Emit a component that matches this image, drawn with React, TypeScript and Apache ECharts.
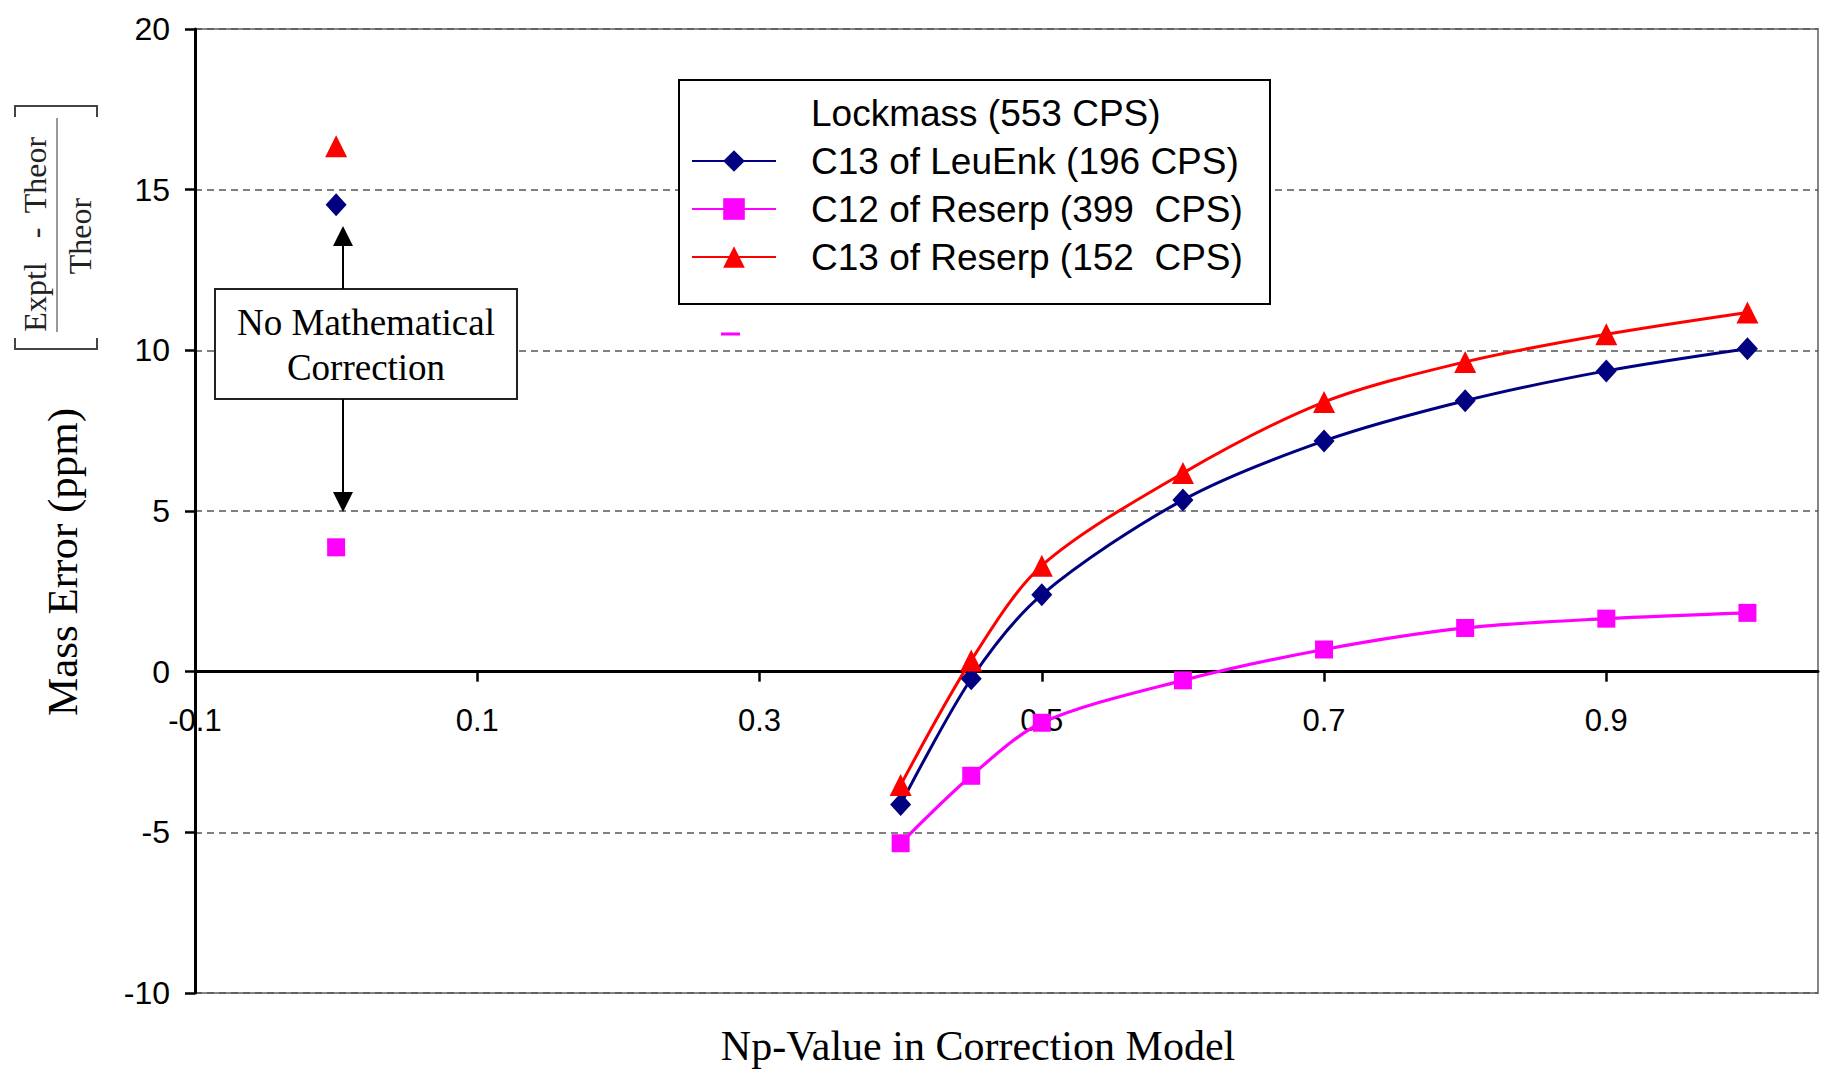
import React, { useEffect, useRef } from "react";
import * as echarts from "echarts";

// ---- data ----
const npValues = [0, 0.4, 0.45, 0.5, 0.6, 0.7, 0.8, 0.9, 1.0];
const c13LeuEnk = [14.53, -4.13, -0.22, 2.39, 5.34, 7.18, 8.43, 9.36, 10.05];
const c12Reserp = [3.87, -5.34, -3.24, -1.59, -0.27, 0.69, 1.36, 1.65, 1.83];
const c13Reserp = [16.35, -3.53, 0.35, 3.3, 6.18, 8.39, 9.64, 10.5, 11.18];

const seriesNames = [
  "Lockmass (553 CPS)",
  "C13 of LeuEnk (196 CPS)",
  "C12 of Reserp (399  CPS)",
  "C13 of Reserp (152  CPS)",
];
const seriesColors = ["rgba(0,0,0,0)", "#000080", "#FF00FF", "#FF0000"];

const xTickValues = [-0.1, 0.1, 0.3, 0.5, 0.7, 0.9];
const xMin = -0.1;
const xMax = 1.05;
const yMin = -10;
const yMax = 20;
const yStep = 5;

const xTitle = "Np-Value in Correction Model";
const yTitle = "Mass Error (ppm)";
const noteLines = ["No Mathematical", "Correction"];

const SANS = '"Liberation Sans", Arial, sans-serif';
const SERIF = '"Liberation Serif", "Times New Roman", serif';

const CHART_W = 1826;
const CHART_H = 1075;
const GRID = { left: 195, right: 8, top: 29, bottom: 82 };

function toPairs(values: number[]) {
  const pts = npValues.map((x, i) => [x, values[i]]);
  // the Np = 0 point (no correction) is not joined to the curve
  return [pts[0], ["-", "-"], ...pts.slice(1)];
}

export default function App() {
  const ref = useRef<HTMLDivElement>(null);

  useEffect(() => {
    if (!ref.current) return;
    const chart = echarts.init(ref.current, null, { renderer: "svg" });

    // the x axis crosses the y axis at y = 0: shift the bottom axis up to that level
    const gridHeight = CHART_H - GRID.top - GRID.bottom;
    const zeroOffset = -gridHeight * ((0 - yMin) / (yMax - yMin));

    const curve = (idx: number, values: number[], symbol: string, size: any, width: number) => ({
      name: seriesNames[idx],
      type: "line",
      data: toPairs(values),
      smooth: 0.3,
      connectNulls: false,
      symbol,
      symbolSize: size,
      color: seriesColors[idx],
      lineStyle: { color: seriesColors[idx], width },
      itemStyle: { color: seriesColors[idx] },
      z: 2,
    });

    const centered = {
      textAlign: "center",
      align: "center",
      textVerticalAlign: "middle",
      verticalAlign: "middle",
    };

    const option: any = {
      animation: false,
      backgroundColor: "#ffffff",
      grid: {
        ...GRID,
        show: true,
        borderColor: "#858585",
        borderWidth: 2,
        backgroundColor: "transparent",
        outerBoundsMode: "none",
      },
      xAxis: {
        type: "value",
        min: xMin,
        max: xMax,
        position: "bottom",
        offset: zeroOffset,
        axisLine: { show: true, onZero: false, lineStyle: { color: "#000", width: 3 } },
        axisTick: {
          show: true,
          inside: false,
          length: 10,
          customValues: xTickValues,
          lineStyle: { color: "#000", width: 2.5 },
        },
        axisLabel: {
          customValues: xTickValues,
          margin: 33,
          fontFamily: SANS,
          fontSize: 31,
          color: "#000",
        },
        splitLine: { show: false },
      },
      yAxis: {
        type: "value",
        min: yMin,
        max: yMax,
        interval: yStep,
        axisLine: { show: true, onZero: false, lineStyle: { color: "#000", width: 3 } },
        axisTick: { show: true, inside: false, length: 10, lineStyle: { color: "#000", width: 2.5 } },
        axisLabel: { margin: 25, fontFamily: SANS, fontSize: 32, color: "#000" },
        splitLine: {
          show: true,
          lineStyle: { color: "#555", width: 1.5, type: [7, 5] },
        },
      },
      legend: {
        orient: "vertical",
        left: 691,
        top: 92,
        padding: 0,
        itemWidth: 84,
        itemHeight: 27,
        itemGap: 6,
        selectedMode: false,
        data: seriesNames,
        textStyle: {
          fontFamily: SANS,
          fontSize: 37,
          color: "#000",
          lineHeight: 42,
          padding: [0, 0, 0, 30],
        },
        z: 5,
      },
      series: [
        {
          name: seriesNames[0],
          type: "line",
          data: [],
          symbol: "none",
          color: seriesColors[0],
          lineStyle: { color: seriesColors[0], width: 0 },
          itemStyle: { color: seriesColors[0] },
        },
        curve(1, c13LeuEnk, "diamond", [21, 23], 3),
        curve(2, c12Reserp, "rect", 18, 3.2),
        curve(3, c13Reserp, "triangle", 22, 3),
      ],
      graphic: [
        // legend frame
        {
          type: "rect",
          z: 3,
          shape: { x: 679, y: 80, width: 591, height: 224 },
          style: { fill: "#fff", stroke: "#000", lineWidth: 2 },
        },
        // stray magenta mark under the legend
        {
          type: "line",
          z: 3,
          shape: { x1: 721, y1: 334, x2: 740, y2: 334 },
          style: { stroke: "#FF00FF", lineWidth: 3 },
        },
        // annotation box
        {
          type: "rect",
          z: 3,
          shape: { x: 215, y: 289, width: 302, height: 110 },
          style: { fill: "#fff", stroke: "#222", lineWidth: 2 },
        },
        {
          type: "text",
          z: 4,
          x: 366,
          y: 345,
          style: {
            text: noteLines.join("\n"),
            fontFamily: SERIF,
            fontSize: 37,
            lineHeight: 45,
            fill: "#000",
            ...centered,
          },
        },
        // arrows
        {
          type: "line",
          z: 3,
          shape: { x1: 343, y1: 289, x2: 343, y2: 244 },
          style: { stroke: "#000", lineWidth: 2 },
        },
        {
          type: "polygon",
          z: 3,
          shape: { points: [[343, 226], [333, 246], [353, 246]] },
          style: { fill: "#000" },
        },
        {
          type: "line",
          z: 3,
          shape: { x1: 343, y1: 399, x2: 343, y2: 494 },
          style: { stroke: "#000", lineWidth: 2 },
        },
        {
          type: "polygon",
          z: 3,
          shape: { points: [[343, 512], [333, 492], [353, 492]] },
          style: { fill: "#000" },
        },
        // axis titles
        {
          type: "text",
          z: 4,
          x: 62,
          y: 562,
          rotation: Math.PI / 2,
          style: { text: yTitle, fontFamily: SERIF, fontSize: 43, fill: "#000", ...centered },
        },
        {
          type: "text",
          z: 4,
          x: 978,
          y: 1046,
          style: { text: xTitle, fontFamily: SERIF, fontSize: 42, fill: "#000", ...centered },
        },
        // [ (Exptl - Theor) / Theor ] formula
        {
          type: "polyline",
          z: 3,
          shape: { points: [[15, 117], [15, 106], [97, 106], [97, 117]] },
          style: { stroke: "#444", lineWidth: 2, fill: "none" },
        },
        {
          type: "polyline",
          z: 3,
          shape: { points: [[15, 338], [15, 349], [97, 349], [97, 338]] },
          style: { stroke: "#444", lineWidth: 2, fill: "none" },
        },
        {
          type: "line",
          z: 3,
          shape: { x1: 57, y1: 118, x2: 57, y2: 332 },
          style: { stroke: "#999", lineWidth: 2 },
        },
        {
          type: "text",
          z: 4,
          x: 35,
          y: 297,
          rotation: Math.PI / 2,
          style: { text: "Exptl", fontFamily: SERIF, fontSize: 32, fill: "#222", ...centered },
        },
        {
          type: "text",
          z: 4,
          x: 35,
          y: 233,
          rotation: Math.PI / 2,
          style: { text: "-", fontFamily: SERIF, fontSize: 32, fill: "#222", ...centered },
        },
        {
          type: "text",
          z: 4,
          x: 35,
          y: 175,
          rotation: Math.PI / 2,
          style: { text: "Theor", fontFamily: SERIF, fontSize: 32, fill: "#222", ...centered },
        },
        {
          type: "text",
          z: 4,
          x: 80,
          y: 236,
          rotation: Math.PI / 2,
          style: { text: "Theor", fontFamily: SERIF, fontSize: 32, fill: "#222", ...centered },
        },
      ],
    };

    chart.setOption(option);
    return () => chart.dispose();
  }, []);

  return (
    <div
      ref={ref}
      style={{ position: "absolute", left: 0, top: 0, width: CHART_W, height: CHART_H, background: "#fff" }}
    />
  );
}
